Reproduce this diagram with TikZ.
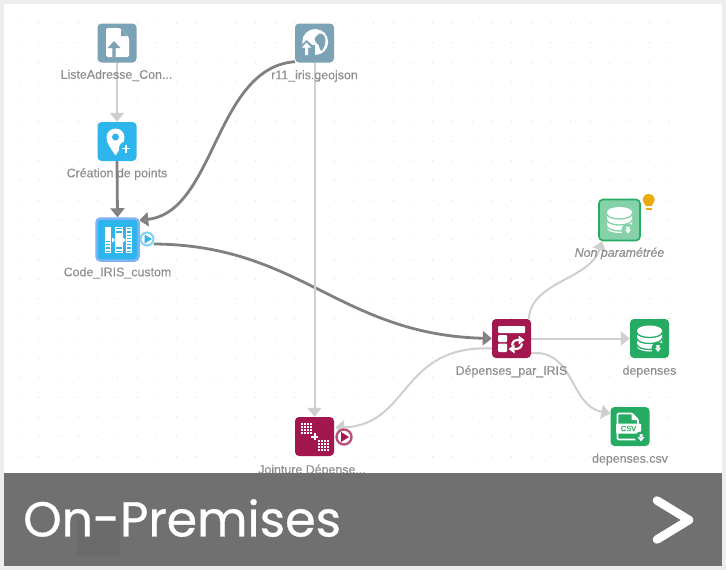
\documentclass[tikz,border=0pt]{standalone}
\usepackage{fontspec}
\setmainfont[FakeBold=0.25]{Liberation Sans}
\newfontfamily\bannerfont[FakeBold=0.7]{Poppins}
\usetikzlibrary{arrows.meta,calc}
\pgfdeclarelayer{bg}
\pgfdeclarelayer{fg}
\pgfsetlayers{bg,main,fg}
\definecolor{slateblue}{HTML}{7BA3B5}
\definecolor{skyb}{HTML}{2DB5EC}
\definecolor{crim}{HTML}{A3174F}
\definecolor{grn}{HTML}{25AB62}
\definecolor{lgrn}{HTML}{85D2A8}
\definecolor{lab}{HTML}{8F8F8F}
\definecolor{edgeL}{HTML}{CFCFCF}
\definecolor{edgeD}{HTML}{808080}
\definecolor{bulb}{HTML}{EBAA0E}
\definecolor{codeb}{HTML}{7FB2F5}
\tikzset{
  box/.style={minimum size=39pt,inner sep=0pt,rounded corners=4pt,fill=#1},
  lbl/.style={text=lab,font=\fontsize{12.4}{14}\selectfont,inner sep=0pt,anchor=center},
  lite/.style={draw=edgeL,line width=2pt,-{Triangle[length=9pt,width=14pt,fill=edgeL]}},
  dark/.style={draw=edgeD,line width=2.8pt,-{Triangle[length=9pt,width=14pt,fill=black!45]}},
}
\newcommand{\dbicon}[1]{%
  \fill[white] (-12.5,-8) arc[start angle=180,end angle=360,x radius=12.5,y radius=5]
    -- (12.5,8) arc[start angle=0,end angle=180,x radius=12.5,y radius=5] -- cycle;
  \draw[#1,line width=1.3pt] (-12.5,-6) arc[start angle=180,end angle=0,x radius=12.5,y radius=5];
  \draw[#1,line width=1.3pt] (-12.5,0) arc[start angle=180,end angle=0,x radius=12.5,y radius=5];
  \draw[#1,line width=1.3pt] (-12.5,6) arc[start angle=180,end angle=0,x radius=12.5,y radius=5];
  \fill[#1] (8.5,10) circle (6.5);
  \fill[white] (6.8,6.5) rectangle (10.2,10) (5.5,9.5) -- (11.5,9.5) -- (8.5,13.5) -- cycle;
}
\begin{document}
\begin{tikzpicture}[x=1pt,y=-1pt]
\useasboundingbox (0,0) rectangle (726,570);
% nodes
\node[box=slateblue] (liste) at (117,43) {};
\node[box=skyb] (creation) at (117,141.5) {};
\node[box=skyb,minimum size=42pt,draw=codeb,line width=2.5pt] (code) at (117.5,239.5) {};
\node[box=slateblue] (iris) at (314.5,43) {};
\node[box=crim] (dep) at (511.5,338.5) {};
\node[box=lgrn,minimum size=41pt,draw=grn,line width=1.6pt] (nonp) at (619.5,220) {};
\node[box=grn] (depenses) at (649.5,338.5) {};
\node[box=grn] (csv) at (630,426.5) {};
\node[box=crim] (join) at (314.5,436.5) {};
% labels
\node[lbl] (l1) at (116.5,75.5) {ListeAdresse\_Con...};
\node[lbl] (l2) at (117,174) {Création de points};
\node[lbl] (l3) at (117.5,273) {Code\_IRIS\_custom};
\node[lbl] (l4) at (314.5,76) {r11\_iris.geojson};
\node[lbl] (l5) at (511.5,371.5) {Dépenses\_par\_IRIS};
\node[lbl,font=\fontsize{12.4}{14}\selectfont\itshape] (l6) at (619.5,253.5) {Non paramétrée};
\node[lbl] (l7) at (649.5,371.5) {depenses};
\node[lbl] (l8) at (630,459.5) {depenses.csv};
\node[lbl] (l9) at (312,470.5) {Jointure Dépense...};
% icon: file upload
\begin{scope}[shift={(liste.center)}]
  \fill[white,rounded corners=1.5pt] (-11,-15) -- (3,-15) -- (12,-6) -- (12,14) -- (-11,14) -- cycle;
  \fill[slateblue] (4,-14) -- (11,-7) -- (4,-7) -- cycle;
  \fill[slateblue] (-3,-2) -- (3.5,5) -- (-1.3,5) -- (-1.3,14) -- (-4.7,14) -- (-4.7,5) -- (-9.5,5) -- cycle;
\end{scope}
% icon: create point
\begin{scope}[shift={(creation.center)}]
  \fill[white] (-1.5,14) .. controls (-6,7) and (-10.5,2) .. (-10.5,-4)
     arc[start angle=180,end angle=360,radius=9] .. controls (7.5,2) and (3,7) .. (-1.5,14) -- cycle;
  \fill[skyb] (-1.5,-4.5) circle (3.5);
  \fill[skyb] (9,7) circle (7);
  \draw[white,line width=1.8pt] (5,7) -- (13,7) (9,3) -- (9,11);
\end{scope}
% icon: code columns
\begin{scope}[shift={(code.center)}]
  \foreach \cx/\cw in {-9.5/5.5,1.5/6.5,11.5/5.5}{
    \foreach \k in {0,...,7}{
      \draw[white,line width=.8pt] ({\cx-\cw/2},{-12+\k*3.2}) rectangle ({\cx+\cw/2},{-9.8+\k*3.2});
    }
  }
  \fill[white] (-12.3,-13) rectangle (-6.7,-1);
  \fill[white] (-1.8,-7) rectangle (4.8,5);
  \fill[white] (-5.5,-2) -- (-2.5,.5) -- (-5.5,3) -- cycle;
  \fill[white] (5.5,-2) -- (8.5,.5) -- (5.5,3) -- cycle;
\end{scope}
% icon: globe
\begin{scope}[shift={(iris.center)}]
  \fill[white] (0.7,-1) circle (13);
  \fill[slateblue] (2,-7) .. controls (5,-11) and (8,-10) .. (10.5,-6) .. controls (12,-1) and (10,5) .. (7,8)
     .. controls (4,6) and (6,2) .. (2,0) .. controls (0,-2) and (-1,-4) .. (2,-7) -- cycle;
  \fill[slateblue] (-15,2) -- (0,2) -- (0,14) -- (-15,14) -- cycle;
  \fill[slateblue] (-8,-3) -- (0,4) -- (-15,4) -- cycle;
  \fill[white] (-8,-.5) -- (-3.5,4.5) -- (-6.5,4.5) -- (-6.5,12) -- (-9.5,12) -- (-9.5,4.5) -- (-12.5,4.5) -- cycle;
\end{scope}
% icon: transform
\begin{scope}[shift={(dep.center)}]
  \fill[white,rounded corners=1pt] (-13.5,-12.5) rectangle (13.5,-5.5);
  \fill[white,rounded corners=1pt] (-13.5,-3.5) rectangle (-4.5,3.5);
  \fill[white,rounded corners=1pt] (-13.5,5) rectangle (-4.5,13.5);
  \draw[white,line width=2.2pt] (0.5,7) .. controls (1,2) and (4,1.5) .. (7.5,1.5);
  \fill[white] (13,1.5) -- (7,-3) -- (7,6) -- cycle;
  \draw[white,line width=2.2pt] (10.5,5) .. controls (10,9.5) and (7,10.5) .. (3,10.5);
  \fill[white] (-3,10.5) -- (3,6) -- (3,15) -- cycle;
\end{scope}
% icon: databases
\begin{scope}[shift={(nonp.center)}]
  \dbicon{lgrn}
\end{scope}
\begin{scope}[shift={(depenses.center)}]
  \dbicon{grn}
\end{scope}
% icon: csv
\begin{scope}[shift={(csv.center)}]
  \draw[white,line width=1.6pt,rounded corners=1pt] (-12.5,-2) -- (-12.5,-13) -- (2,-13) -- (8,-7) -- (8,-3);
  \draw[white,line width=1.6pt,rounded corners=1pt] (-12.5,5) -- (-12.5,13) -- (8,13) -- (8,8);
  \fill[white] (1.5,-13) -- (8,-6.5) -- (1.5,-6.5) -- cycle;
  \fill[white,rounded corners=1pt] (-14,-3) rectangle (11,7);
  \node[text=grn,font=\fontsize{7.5}{8}\selectfont,inner sep=0pt] (csvt) at (-1.5,2) {CSV};
  \fill[grn] (11,11) circle (6);
  \fill[white] (9.5,7.5) rectangle (12.5,11) (7.5,10.5) -- (14.5,10.5) -- (11,15) -- cycle;
\end{scope}
% icon: join
\begin{scope}[shift={(join.center)}]
  \foreach \ox/\oy in {-8.5/-8.5,8.5/8.5}{
    \foreach \i in {-1.5,-.5,.5,1.5}{\foreach \j in {-1.5,-.5,.5,1.5}{
      \fill[white] ({\ox+\i*3-1},{\oy+\j*3-1}) rectangle ({\ox+\i*3+1},{\oy+\j*3+1});
    }}
  }
  \draw[white,line width=2pt] (-3.5,0) -- (3.5,0) (0,-3.5) -- (0,3.5);
\end{scope}
% play buttons
\node[circle,fill=white,draw=skyb!60!white,line width=2pt,minimum size=13pt,inner sep=0pt] (play1) at (147,239) {};
\fill[skyb] (144.5,234.5) -- (152,239) -- (144.5,243.5) -- cycle;
\node[circle,fill=white,draw=crim!75!white,line width=2.4pt,minimum size=15pt,inner sep=0pt] (play2) at (344,437) {};
\fill[crim] (341,432) -- (349,437) -- (341,442) -- cycle;
% bulb
\begin{scope}[shift={(648.7,201)}]
  \fill[bulb] (-3,5) .. controls (-4,2) and (-6,1) .. (-6,-1) arc[start angle=180,end angle=360,radius=6] .. controls (6,1) and (4,2) .. (3,5) -- cycle;
  \fill[bulb] (-2.8,6.5) rectangle (2.8,8.5);
\end{scope}
% edges and background
\begin{pgfonlayer}{bg}
  \fill[black!7] (0,0) rectangle (726,570);
  \fill[white] (4,4) rectangle (722,566);
  \foreach \i in {0,...,33}{\foreach \j in {0,...,23}{
    \fill[black!12] ({19+\i*19.7},{23+\j*19.7}) circle (.65);
  }}
  \draw[lite] (liste.south) -- (creation.north);
  \draw[dark] (creation.south) -- (code.north);
  \draw[dark] ($(iris.south west)+(0,-1)$) .. controls +(-80,6) and +(76,-8) .. ($(code.north east)+(-.5,3)$);
  \draw[dark] ($(code.east)+(14,4.5)$) .. controls +(147,1) and +(-152,-4) .. (dep.west);
  \draw[lite] (iris.south) -- (join.north);
  \draw[lite] ($(dep.west)+(0,10)$) .. controls +(-92,-4) and +(75,-2) .. ($(join.east)+(1,-9)$);
  \draw[lite] (dep.east) -- (depenses.west);
  \draw[lite] ($(dep.north east)+(-2.5,0)$) .. controls +(3,-38) and +(-13,39) .. ($(nonp.south west)+(4,0)$);
  \draw[lite] ($(dep.east)+(0,14.5)$) .. controls +(44,-3) and +(-41,-8) .. ($(csv.west)+(0,-13)$);
\end{pgfonlayer}
% banner
\begin{pgfonlayer}{fg}
  \fill[black!56] (4,473) rectangle (722,566);
  \fill[black!58,rounded corners=3pt] (77,515) rectangle (120,556);
  \node[text=white,font=\bannerfont\fontsize{49}{55}\selectfont,inner sep=0pt,anchor=west] (banner) at (23,518) {On-Premises};
  \draw[white,line width=8.5pt,line cap=round,line join=round] (657,500.5) -- (689,520) -- (657,539.5);
\end{pgfonlayer}
\end{tikzpicture}
\end{document}
